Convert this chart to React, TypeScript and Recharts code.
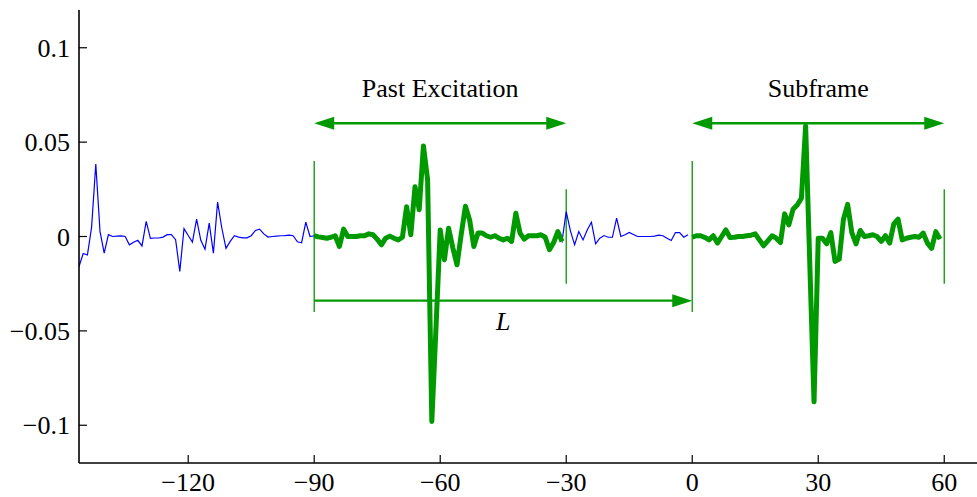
import React from 'react';
import { LineChart, Line, XAxis, YAxis, ReferenceLine, ReferenceDot } from 'recharts';

// Excitation history, samples n = -146 .. -1
const historyStart = -146;
const historyValues = [
  -0.0159, -0.009, -0.0098, 0.005, 0.0384, 0.0027, -0.0088, 0.001, 0, 0.0002,
  0.0003, 0, -0.0044, -0.003, -0.002, -0.005, 0.008, -0.001, -0.0008, -0.0008,
  -0.0003, 0.001, 0.001, -0.0017, -0.0185, 0.0042, 0.0005, -0.003, 0.0092, -0.002,
  -0.0067, 0.0071, -0.0088, 0.0182, 0.0045, -0.0063, -0.0026, 0.0004, -0.0003, -0.0007,
  -0.0007, 0.0004, 0.0032, 0.0039, 0.0014, -0.0003, 0, 0.0002, 0.0004, 0.0005,
  0.0007, 0.0004, -0.0028, -0.0033, 0.0076, 0,
  // -90 .. -31 (past excitation)
  0.0004, -0.0002, -0.0005, -0.0009, -0.0004, 0.0004, -0.0053, 0.0039, 0, 0,
  0, 0.0004, 0.0004, 0.0014, 0.0009, -0.0014, -0.0044, -0.0009, 0.0002, -0.0009,
  -0.0018, -0.0004, 0.0158, 0.0009, 0.0264, 0.0142, 0.048, 0.03, -0.098, -0.048,
  0.0035, -0.0123, 0.0044, -0.006, -0.015, 0.0011, 0.016, 0.0088, -0.0053, 0.0018,
  0.0018, 0.0004, -0.0004, 0.0004, -0.0009, -0.0018, -0.0009, -0.0026, 0.0123, 0.0018,
  -0.0014, 0.0004, 0.0004, 0.0004, 0.0009, -0.0004, -0.007, -0.0032, 0.0026, -0.0026,
  // -30 .. -1
  0.0132, 0.003, -0.0044, 0.0026, -0.0018, 0.0035, 0.0076, -0.0039, -0.0009, 0.0005,
  -0.0004, -0.0004, 0.0097, 0, 0.0009, 0.0021, 0.0011, 0, 0, 0,
  0, 0.0002, 0.0007, 0.0004, -0.0009, -0.0021, 0.0021, 0.0021, -0.0004, 0.0009,
];

// Past excitation window
const pastStart = -90;
const pastEnd = -31;

// Subframe, samples n = 0 .. 59
const subframeStart = 0;
const subframeValues = [
  -0.0004, 0.0004, 0.0004, -0.0005, -0.0018, 0.0004, -0.0035, 0, 0.0035, -0.0005,
  -0.0004, 0, 0, 0.0004, 0.0007, 0.0014, -0.0018, -0.0049, -0.0023, 0.0004,
  -0.0009, -0.0032, 0.012, 0.0062, 0.0144, 0.0167, 0.0203, 0.0586, -0.015, -0.0876,
  -0.0009, -0.0009, -0.0039, 0.0021, -0.0132, -0.012, 0.009, 0.017, 0.002, -0.0039,
  0.0032, 0, 0.0004, 0.0009, 0, -0.0026, 0.0004, -0.0035, 0.0067, 0.0092,
  -0.0018, -0.0009, -0.0004, 0, -0.0004, 0.0018, -0.0035, -0.0063, 0.0026, -0.0014,
];

const xTicks = [-120, -90, -60, -30, 0, 30, 60];
const yTicks = [-0.1, -0.05, 0, 0.05, 0.1];

const BLUE = '#0000ff';
const GREEN = '#009900';
const FONT = '"Liberation Serif", "Times New Roman", serif';

type Row = { n: number; history?: number; past?: number; sub?: number };
const rows: Row[] = [];
historyValues.forEach((v, i) => {
  const n = historyStart + i;
  rows.push({ n, history: v, past: n >= pastStart && n <= pastEnd ? v : undefined });
});
subframeValues.forEach((v, i) => {
  rows.push({ n: subframeStart + i, sub: v });
});

const fmt = (v: number) => (v < 0 ? '\u2212' + String(-v) : String(v));

const arrowShape = (both: boolean) => (p: any) => {
  const { x1, y1, x2, y2 } = p;
  const L = 20;
  const H = 6.5;
  const lx1 = both ? x1 + L / 2 : x1;
  const lx2 = x2 - L / 2;
  return (
    <g>
      <line x1={lx1} y1={y1} x2={lx2} y2={y2} stroke={GREEN} strokeWidth={2.3} />
      {both && (
        <polygon points={`${x1},${y1} ${x1 + L},${y1 - H} ${x1 + L},${y1 + H}`} fill={GREEN} />
      )}
      <polygon points={`${x2},${y2} ${x2 - L},${y2 - H} ${x2 - L},${y2 + H}`} fill={GREEN} />
    </g>
  );
};

const textShape = (label: string, italic = false) => (p: any) => (
  <text
    x={p.cx}
    y={p.cy}
    textAnchor="middle"
    fontFamily={FONT}
    fontSize={26}
    fontStyle={italic ? 'italic' : 'normal'}
    fill="#000"
  >
    {label}
  </text>
);

const markers = [
  { x: -90, h: 0.04 },
  { x: -30, h: 0.025 },
  { x: 0, h: 0.04 },
  { x: 60, h: 0.025 },
];

const tickStyle = { fontFamily: FONT, fontSize: 26, fill: '#000' };

export default function App() {
  return (
    <div
      style={{
        position: 'absolute',
        left: 0,
        top: 0,
        width: 977,
        height: 497,
        background: '#fff',
        fontFamily: FONT,
      }}
    >
      <LineChart
        width={977}
        height={497}
        data={rows}
        margin={{ top: 10, right: 0, bottom: 0, left: 0 }}
        style={{ fontFamily: FONT }}
      >
        <XAxis
          dataKey="n"
          type="number"
          domain={[-146, 67.8]}
          allowDataOverflow
          ticks={xTicks}
          interval={0}
          tickFormatter={fmt}
          height={34}
          tickSize={-8}
          tickMargin={18}
          fontFamily={FONT}
          fontSize={26}
          axisLine={{ stroke: '#000', strokeWidth: 1.6 }}
          tickLine={{ stroke: '#000', strokeWidth: 1.2 }}
          tick={tickStyle}
        />
        <XAxis
          xAxisId="top"
          orientation="top"
          dataKey="n"
          type="number"
          domain={[-146, 67.8]}
          allowDataOverflow
          ticks={xTicks}
          interval={0}
          tickFormatter={() => ''}
          height={0}
          tickSize={-8}
          axisLine={{ stroke: '#000', strokeWidth: 1.4 }}
          tickLine={{ stroke: '#000', strokeWidth: 1.2 }}
        />
        <YAxis
          type="number"
          domain={[-0.12, 0.12]}
          allowDataOverflow
          ticks={yTicks}
          interval={0}
          tickFormatter={fmt}
          width={79}
          tickSize={-8}
          tickMargin={17}
          fontFamily={FONT}
          fontSize={26}
          axisLine={{ stroke: '#000', strokeWidth: 1.6 }}
          tickLine={{ stroke: '#000', strokeWidth: 1.2 }}
          tick={tickStyle}
        />
        {markers.map((m) => (
          <ReferenceLine
            key={m.x}
            segment={[{ x: m.x, y: -m.h }, { x: m.x, y: m.h }]}
            stroke={GREEN}
            strokeWidth={1.3}
          />
        ))}
        <ReferenceLine
          segment={[{ x: -90, y: 0.06 }, { x: -30, y: 0.06 }]}
          shape={arrowShape(true)}
        />
        <ReferenceLine
          segment={[{ x: 0, y: 0.06 }, { x: 60, y: 0.06 }]}
          shape={arrowShape(true)}
        />
        <ReferenceLine
          segment={[{ x: -90, y: -0.034 }, { x: 0, y: -0.034 }]}
          shape={arrowShape(false)}
        />
        <ReferenceDot x={-60} y={0.0738} r={0} shape={textShape('Past Excitation')} />
        <ReferenceDot x={30} y={0.0738} r={0} shape={textShape('Subframe')} />
        <ReferenceDot x={-45} y={-0.0493} r={0} shape={textShape('L', true)} />
        <Line
          dataKey="history"
          stroke={BLUE}
          strokeWidth={1.2}
          dot={false}
          isAnimationActive={false}
          connectNulls={false}
        />
        <Line
          dataKey="past"
          stroke={GREEN}
          strokeWidth={5}
          strokeLinejoin="round"
          dot={false}
          isAnimationActive={false}
          connectNulls={false}
        />
        <Line
          dataKey="sub"
          stroke={GREEN}
          strokeWidth={5}
          strokeLinejoin="round"
          dot={false}
          isAnimationActive={false}
          connectNulls={false}
        />
      </LineChart>
    </div>
  );
}
